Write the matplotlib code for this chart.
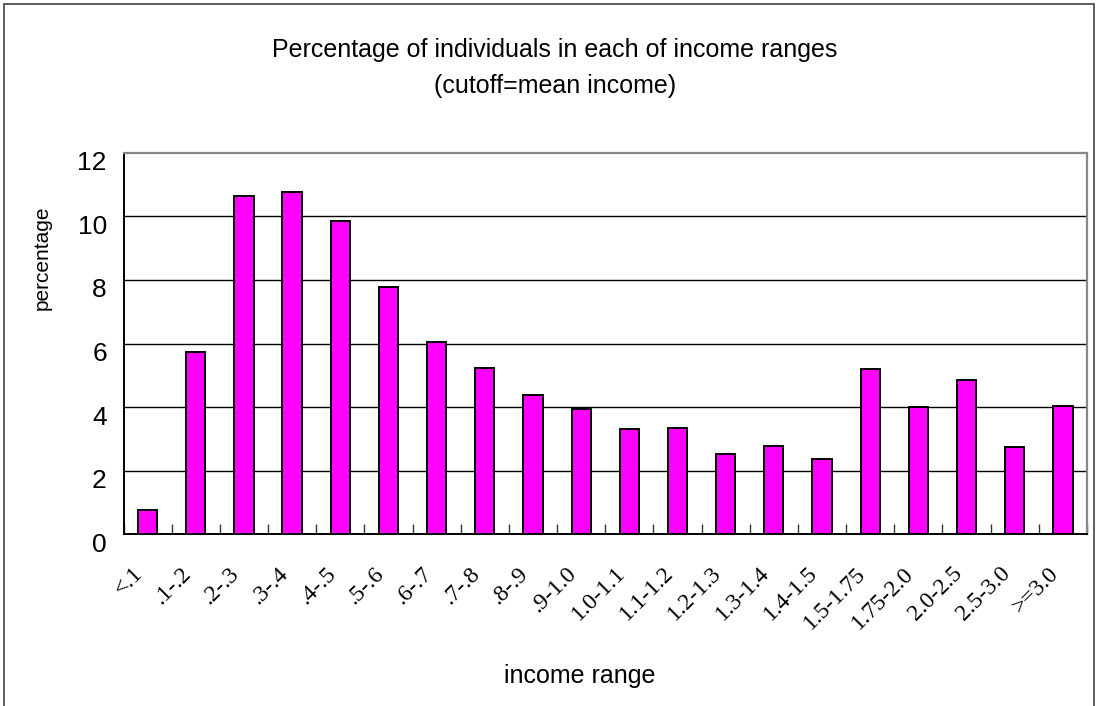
import matplotlib
matplotlib.use("Agg")
import matplotlib.pyplot as plt
import matplotlib.transforms as mtransforms
from matplotlib.patches import Rectangle
import numpy as np

categories = ["<.1", ".1-.2", ".2-.3", ".3-.4", ".4-.5", ".5-.6", ".6-.7", ".7-.8",
              ".8-.9", ".9-1.0", "1.0-1.1", "1.1-1.2", "1.2-1.3", "1.3-1.4", "1.4-1.5",
              "1.5-1.75", "1.75-2.0", "2.0-2.5", "2.5-3.0", ">=3.0"]
percentages = [0.76, 5.72, 10.65, 10.75, 9.84, 7.77, 6.05, 5.23, 4.38, 3.95,
               3.31, 3.33, 2.53, 2.79, 2.37, 5.20, 4.00, 4.84, 2.75, 4.03]
y_ticks = [0, 2, 4, 6, 8, 10, 12]

W, H = 1097, 706
fig = plt.figure(figsize=(W / 100, H / 100), dpi=100)

# outer chart border (open at the bottom)
fig.add_artist(Rectangle((3.5 / W, -0.05), (1093.5 - 3.5) / W, 1.05 - 3.5 / H,
                         transform=fig.transFigure, fill=False,
                         edgecolor="#444444", linewidth=1.2))

ax = fig.add_axes([123.5 / W, 1 - 534.3 / H, (1087 - 123.5) / W, (534.3 - 152.7) / H])

x = np.arange(len(categories))
ax.bar(x, percentages, width=0.4, color="#ff00ff", edgecolor="black",
       linewidth=1.4, zorder=3)

ax.set_xlim(-0.5, len(categories) - 0.5)
ax.set_ylim(0, 12)
ax.set_yticks(y_ticks)
ax.set_yticklabels([str(v) for v in y_ticks], fontsize=19, family="Liberation Sans")
for v in y_ticks[1:-1]:
    ax.axhline(v, color="black", linewidth=1.0, zorder=1)

ax.set_xticks(x)
ax.set_xticklabels(categories, rotation=45, ha="right", va="top",
                   rotation_mode="anchor", fontsize=17, family="Liberation Serif")
ax.tick_params(axis="x", which="major", length=0, pad=12)
ax.set_xticks(np.arange(-0.5, len(categories)), minor=True)
ax.tick_params(axis="x", which="minor", direction="in", length=7, width=1.0,
               color="#333333")
ax.tick_params(axis="y", direction="out", length=0, width=1.0, pad=12)

# nudge tick labels the way the spreadsheet lays them out
x_shift = mtransforms.ScaledTranslation(-15 / 100, -12 / 100, fig.dpi_scale_trans)
for lbl in ax.get_xticklabels():
    lbl.set_transform(lbl.get_transform() + x_shift)
y_shift = mtransforms.ScaledTranslation(0, -8 / 100, fig.dpi_scale_trans)
for lbl in ax.get_yticklabels():
    lbl.set_transform(lbl.get_transform() + y_shift)

for side in ("left", "bottom"):
    ax.spines[side].set_color("black")
    ax.spines[side].set_linewidth(1.4)
for side in ("top", "right"):
    ax.spines[side].set_color("#888888")
    ax.spines[side].set_linewidth(1.6)

fig.text(555 / W, 1 - 50 / H, "Percentage of individuals in each of income ranges",
         ha="center", va="center", fontsize=18, family="Liberation Sans")
fig.text(555 / W, 1 - 86 / H, "(cutoff=mean income)",
         ha="center", va="center", fontsize=18, family="Liberation Sans")
fig.text(42 / W, 1 - 258 / H, "percentage", rotation=90, ha="center", va="center",
         fontsize=15, family="Liberation Sans")
fig.text(580 / W, 1 - 676 / H, "income range", ha="center", va="center",
         fontsize=18, family="Liberation Sans")

fig.savefig("out.png", dpi=100, facecolor="white")
